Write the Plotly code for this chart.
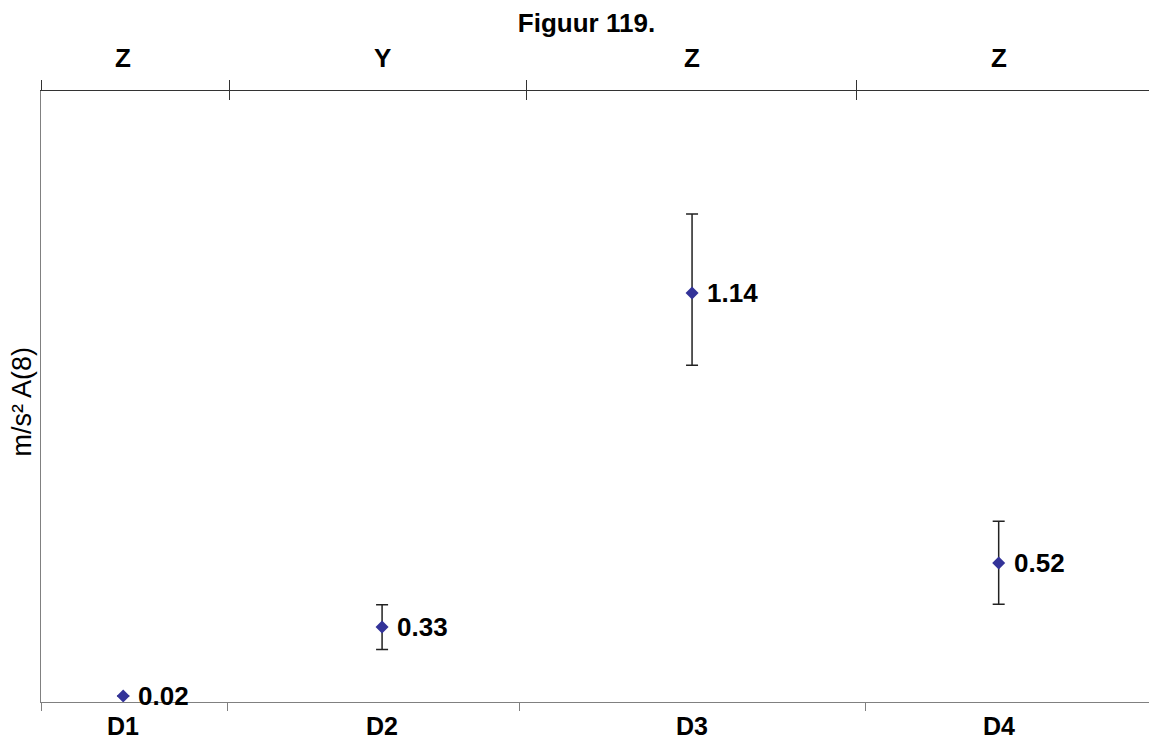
import plotly.graph_objects as go

# --- DATA ---
bottom_labels = ["D1", "D2", "D3", "D4"]
top_labels = ["Z", "Y", "Z", "Z"]
x_points = [7.4, 30.7, 58.6, 86.2]
y_values = [0.015, 0.184, 1.004, 0.341]
err_plus = [0.0, 0.055, 0.194, 0.103]
err_minus = [0.0, 0.055, 0.177, 0.101]
value_labels = ["0.02", "0.33", "1.14", "0.52"]
bottom_bounds = [0, 16.8, 43.1, 74.2, 100]
top_bounds = [0, 17.0, 43.7, 73.4, 100]

FONT = "Liberation Sans, Arial, sans-serif"
LBL = 26

fig = go.Figure()
fig.add_trace(go.Scatter(
    x=x_points, y=y_values, mode="markers",
    marker=dict(symbol="diamond", size=10, color="#333399"),
    error_y=dict(type="data", symmetric=False, array=err_plus, arrayminus=err_minus,
                 color="#222222", thickness=1.5, width=6),
    showlegend=False, cliponaxis=False,
))

# value labels next to the points
for xv, yv, t in zip(x_points, y_values, value_labels):
    fig.add_annotation(x=xv, y=yv, text=f"<b>{t}</b>", showarrow=False, xanchor="left",
                       yanchor="middle", xshift=13, font=dict(family=FONT, size=LBL, color="black"))

# category labels
for xv, t in zip(x_points, bottom_labels):
    fig.add_annotation(x=xv, y=-0.04, xref="x", yref="paper", text=f"<b>{t}</b>",
                       xanchor="center", yanchor="middle", showarrow=False,
                       font=dict(family=FONT, size=25, color="black"))
for xv, t in zip(x_points, top_labels):
    fig.add_annotation(x=xv, y=1.054, xref="x", yref="paper", text=f"<b>{t}</b>",
                       xanchor="center", yanchor="middle", showarrow=False,
                       font=dict(family=FONT, size=LBL, color="black"))

fig.add_annotation(x=-0.0175, y=0.491, xref="paper", yref="paper", text="m/s² A(8)",
                   xanchor="center", yanchor="middle", textangle=-90, showarrow=False,
                   font=dict(family=FONT, size=27, color="black"))

# page body has an 8px margin, so the margins are shifted to compensate
fig.update_layout(
    width=1157, height=742,
    margin=dict(l=33, r=13, t=83, b=48),
    paper_bgcolor="white", plot_bgcolor="white",
    title=dict(text="<b>Figuur 119.</b>", x=0.5, xanchor="center", xref="container",
               y=0.98, yanchor="middle", font=dict(family=FONT, size=LBL, color="black")),
    xaxis=dict(range=[0, 100], tickmode="array", tickvals=bottom_bounds, showticklabels=False,
               ticks="outside", ticklen=8, tickcolor="#808080", showline=True, linecolor="#808080",
               showgrid=False, zeroline=False, automargin=False),
    xaxis2=dict(range=[0, 100], overlaying="x", side="top", anchor="y", tickmode="array",
                tickvals=top_bounds, showticklabels=False, ticks="outside", ticklen=10,
                tickcolor="#333333", showline=True, linecolor="#333333", showgrid=False,
                zeroline=False, automargin=False),
    xaxis3=dict(range=[0, 100], overlaying="x", side="top", anchor="y", tickmode="array",
                tickvals=top_bounds, showticklabels=False, ticks="inside", ticklen=9,
                tickcolor="#333333", showline=False, showgrid=False, zeroline=False,
                automargin=False),
    yaxis=dict(range=[0, 1.5], showticklabels=False, ticks="", showline=True, linecolor="#808080",
               showgrid=False, zeroline=False, automargin=False),
)
# invisible traces to activate top axes
fig.add_trace(go.Scatter(x=[0], y=[0], xaxis="x2", mode="markers", marker=dict(opacity=0),
                         showlegend=False, hoverinfo="skip"))
fig.add_trace(go.Scatter(x=[0], y=[0], xaxis="x3", mode="markers", marker=dict(opacity=0),
                         showlegend=False, hoverinfo="skip"))

fig.write_html("out.html")
